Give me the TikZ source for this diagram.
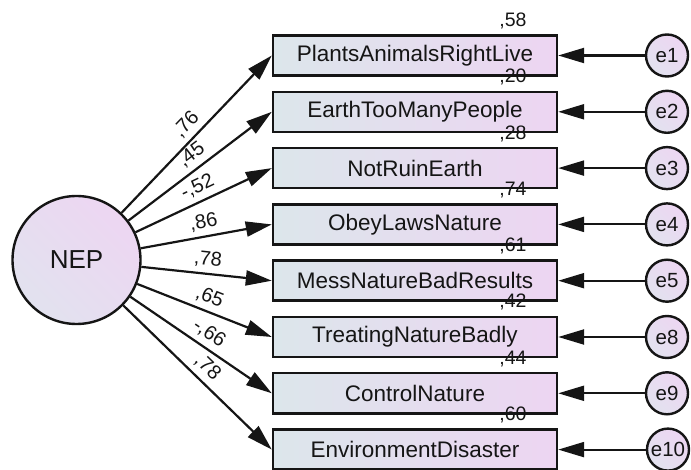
\documentclass[tikz,border=0pt]{standalone}
\usepackage{fontspec}
\setmainfont{Liberation Sans}
\usetikzlibrary{arrows.meta,shadings}
\definecolor{boxL}{HTML}{DCE6EB}
\definecolor{boxR}{HTML}{EDD5F2}
\definecolor{cirL}{HTML}{E2E2EF}
\definecolor{cirR}{HTML}{EDD6F2}
\definecolor{ink}{HTML}{151515}
\begin{document}
\begin{tikzpicture}[x=1pt,y=-1pt,
  ind/.style={draw=ink, line width=2.4pt, left color=boxL, right color=boxR,
    minimum width=284pt, minimum height=40pt, inner sep=0pt,
    font=\fontsize{22.5}{25}\selectfont, text=ink},
  lat/.style={circle, draw=ink, line width=2.4pt, left color=cirL, right color=cirR, shading angle=135,
    minimum size=128pt, inner sep=0pt, font=\fontsize{26}{30}\selectfont, text=ink},
  err/.style={circle, draw=ink, line width=2.4pt, left color=cirL, right color=cirR, shading angle=135,
    minimum size=42pt, inner sep=0pt, font=\fontsize{20.5}{23}\selectfont, text=ink},
  arr/.style={draw=ink, line width=2.2pt, -{Triangle[length=26pt,width=15pt]}},
  ld/.style={sloped, above=4pt, pos=0.5, inner sep=1pt, font=\fontsize{20}{22}\selectfont, text=ink},
  rsq/.style={anchor=base, inner sep=0pt, font=\fontsize{19.5}{22}\selectfont, text=ink}
]
\useasboundingbox (0,0) rectangle (691,470);

\node[lat] (nep) at (76.5,260) {NEP};

\node[ind] (b1) at (415,55.5) {PlantsAnimalsRightLive};
\node[ind] (b2) at (415,111.8) {EarthTooManyPeople};
\node[ind] (b3) at (415,168.1) {NotRuinEarth};
\node[ind] (b4) at (415,224.4) {ObeyLawsNature};
\node[ind] (b5) at (415,280.7) {MessNatureBadResults};
\node[ind] (b6) at (415,337.0) {TreatingNatureBadly};
\node[ind] (b7) at (415,393.3) {ControlNature};
\node[ind] (b8) at (415,449.6) {EnvironmentDisaster};

\node[err] (e1) at (667,55.5) {e1};
\node[err] (e2) at (667,111.8) {e2};
\node[err] (e3) at (667,168.1) {e3};
\node[err] (e4) at (667,224.4) {e4};
\node[err] (e5) at (667,280.7) {e5};
\node[err] (e8) at (667,337.0) {e8};
\node[err] (e9) at (667,393.3) {e9};
\node[err] (e10) at (668,449.6) {e10};

\draw[arr] (nep) -- (b1.west) node[ld] (l1) {,76};
\draw[arr] (nep) -- (b2.west) node[ld] (l2) {,45};
\draw[arr] (nep) -- (b3.west) node[ld] (l3) {-,52};
\draw[arr] (nep) -- (b4.west) node[ld] (l4) {,86};
\draw[arr] (nep) -- (b5.west) node[ld] (l5) {,78};
\draw[arr] (nep) -- (b6.west) node[ld] (l6) {,65};
\draw[arr] (nep) -- (b7.west) node[ld] (l7) {-,66};
\draw[arr] (nep) -- (b8.west) node[ld] (l8) {,78};

\draw[arr] (e1) -- (b1.east);
\draw[arr] (e2) -- (b2.east);
\draw[arr] (e3) -- (b3.east);
\draw[arr] (e4) -- (b4.east);
\draw[arr] (e5) -- (b5.east);
\draw[arr] (e8) -- (b6.east);
\draw[arr] (e9) -- (b7.east);
\draw[arr] (e10) -- (b8.east);

\node[rsq] (r1) at (513,26.5) {,58};
\node[rsq] (r2) at (513,82.8) {,20};
\node[rsq] (r3) at (513,139.1) {,28};
\node[rsq] (r4) at (513,195.4) {,74};
\node[rsq] (r5) at (513,251.7) {,61};
\node[rsq] (r6) at (513,308.0) {,42};
\node[rsq] (r7) at (513,364.3) {,44};
\node[rsq] (r8) at (513,420.6) {,60};
\end{tikzpicture}
\end{document}
